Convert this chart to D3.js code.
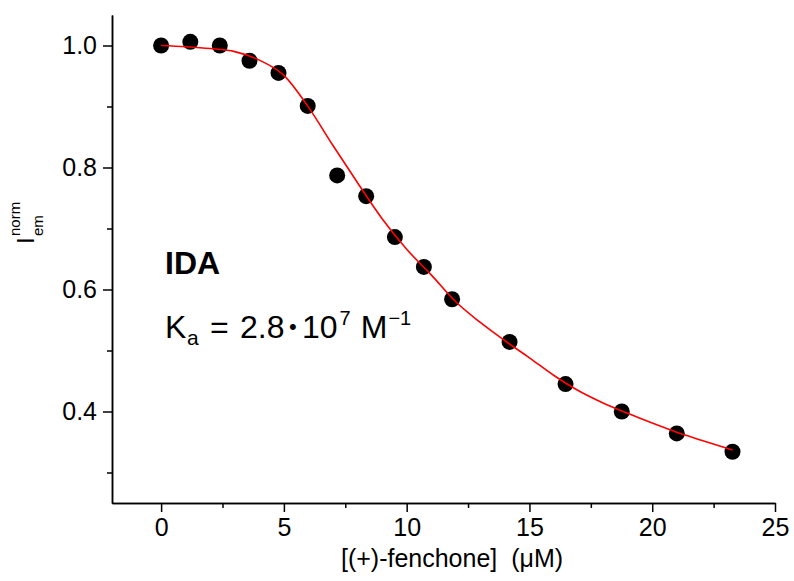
<!DOCTYPE html>
<html>
<head>
<meta charset="utf-8">
<script src="https://cdn.jsdelivr.net/npm/d3@7"></script>
<style>
  body { margin: 0; background: #fff; }
  svg text { font-family: "Liberation Sans", Arial, sans-serif; fill: #000; }
  .axis path, .axis line { stroke: #000; stroke-width: 1.5; }
</style>
</head>
<body>
<div id="vis"></div>
<script>
// measured titration points
const concUM = [0, 1.19, 2.39, 3.6, 4.78, 5.97, 7.17, 8.35, 9.52, 10.7, 11.85, 14.19, 16.47, 18.76, 21.0, 23.27];
const intensity = [1.0, 1.006, 1.0, 0.975, 0.955, 0.901, 0.787, 0.753, 0.686, 0.637, 0.584, 0.514, 0.445, 0.400, 0.364, 0.334];

// fit curve
const fitX = [0, 1, 2, 3, 4, 5, 6, 7, 8, 9, 10, 11, 12, 13, 14, 15, 16, 17, 18, 19, 20, 21, 22, 23.27];
const fitY = [1.0, 0.998, 0.995, 0.990, 0.976, 0.951, 0.899, 0.836, 0.775, 0.716, 0.666, 0.624, 0.580, 0.546, 0.516, 0.488, 0.459, 0.434, 0.414, 0.397, 0.381, 0.366, 0.353, 0.337];

const xMajor = [0, 5, 10, 15, 20, 25];
const xMinor = [2.5, 7.5, 12.5, 17.5, 22.5];
const yMajor = [0.4, 0.6, 0.8, 1.0];
const yMinor = [0.3, 0.5, 0.7, 0.9];

function init() {
    const W = 794, H = 581;
    const margin = {top: 15, right: 19, bottom: 78, left: 112};

    const svg = d3.select('#vis')
        .append('svg')
        .attr('width', W)
        .attr('height', H);

    const xScale = d3.scaleLinear()
        .domain([-2, 25])
        .range([margin.left, W - margin.right]);
    const yScale = d3.scaleLinear()
        .domain([0.25, 1.05])
        .range([H - margin.bottom, margin.top]);

    // minor ticks first, then the major axis with labels
    svg.append('g')
        .attr('class', 'axis')
        .attr('transform', `translate(0, ${H - margin.bottom})`)
        .call(d3.axisBottom(xScale).tickValues(xMinor).tickSize(5).tickSizeOuter(0).tickFormat(''));
    const xAxis = svg.append('g')
        .attr('class', 'axis')
        .attr('transform', `translate(0, ${H - margin.bottom})`)
        .call(d3.axisBottom(xScale).tickValues(xMajor).tickSize(9).tickSizeOuter(0).tickPadding(6).tickFormat(d3.format('d')));
    xAxis.selectAll('text').style('font-size', '25px');

    svg.append('g')
        .attr('class', 'axis')
        .attr('transform', `translate(${margin.left}, 0)`)
        .call(d3.axisLeft(yScale).tickValues(yMinor).tickSize(5).tickSizeOuter(0).tickFormat(''));
    const yAxis = svg.append('g')
        .attr('class', 'axis')
        .attr('transform', `translate(${margin.left}, 0)`)
        .call(d3.axisLeft(yScale).tickValues(yMajor).tickSize(9).tickSizeOuter(0).tickPadding(6).tickFormat(d3.format('.1f')));
    yAxis.selectAll('text').style('font-size', '25px');

    // data points
    svg.selectAll('.point')
        .data(concUM.map((c, i) => ({x: c, y: intensity[i]})))
        .join('circle')
        .attr('class', 'point')
        .attr('cx', d => xScale(d.x))
        .attr('cy', d => yScale(d.y))
        .attr('r', 8)
        .style('fill', '#000');

    // fit line drawn over the points
    const line = d3.line()
        .x(d => xScale(d[0]))
        .y(d => yScale(d[1]))
        .curve(d3.curveMonotoneX);
    svg.append('path')
        .datum(fitX.map((x, i) => [x, fitY[i]]))
        .attr('d', line)
        .attr('fill', 'none')
        .attr('stroke', '#ff0000')
        .attr('stroke-width', 1.6);

    // axis titles
    svg.append('text')
        .attr('x', 452)
        .attr('y', 567)
        .attr('text-anchor', 'middle')
        .style('font-size', '25px')
        .style('white-space', 'pre')
        .text('[(+)-fenchone]  (\u03bcM)');

    const yt = svg.append('g').attr('transform', 'translate(34, 244) rotate(-90)');
    yt.append('text').attr('x', 0).attr('y', 0).style('font-size', '24px').text('I');
    yt.append('text').attr('x', 8).attr('y', -14).style('font-size', '15px').text('norm');
    yt.append('text').attr('x', 8).attr('y', 9).style('font-size', '15px').text('em');

    // annotations
    svg.append('text')
        .attr('x', 165)
        .attr('y', 274)
        .style('font-size', '32px')
        .style('font-weight', 'bold')
        .text('IDA');

    const ka = svg.append('text').attr('y', 338).style('font-size', '32px');
    ka.append('tspan').attr('x', 165).text('K');
    ka.append('tspan').attr('x', 187).attr('dy', 7).style('font-size', '21px').text('a');
    ka.append('tspan').attr('x', 210).attr('dy', -7).text('=');
    ka.append('tspan').attr('x', 240).text('2.8');
    ka.append('tspan').attr('x', 289).attr('dy', -4).style('font-size', '22px').text('\u2022');
    ka.append('tspan').attr('x', 302).attr('dy', 4).text('10');
    ka.append('tspan').attr('dx', 2).attr('dy', -13).style('font-size', '20px').text('7');
    ka.append('tspan').attr('dx', 10).attr('dy', 13).text('M');
    ka.append('tspan').attr('dx', 1).attr('dy', -13).style('font-size', '20px').text('\u22121');
}

window.addEventListener('load', init);
</script>
</body>
</html>
